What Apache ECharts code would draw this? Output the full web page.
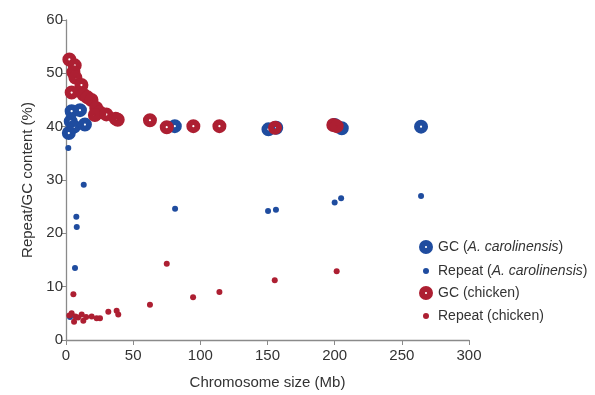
<!DOCTYPE html>
<html>
<head>
<meta charset="utf-8">
<script src="https://cdn.jsdelivr.net/npm/echarts@6/dist/echarts.min.js"></script>
<style>
  html, body { margin: 0; padding: 0; background: #fff; }
  #chart { width: 595px; height: 395px; }
</style>
</head>
<body>
<div id="chart"></div>
<script>
// [chromosome size (Mb), percent]
const gcAnole = [
  [2.1, 38.8], [3.5, 41.0], [4.2, 42.9], [10.4, 43.1], [6.0, 40.0], [14.1, 40.4],
  [81, 40.1], [150.7, 39.5], [156.5, 39.8], [200, 40.3], [205.3, 39.7], [264.3, 40.0]
];
const repeatAnole = [
  [1.7, 36.0], [13.2, 29.1], [7.7, 23.1], [8.0, 21.2], [6.7, 13.5], [3.0, 4.3],
  [81.2, 24.6], [150.4, 24.2], [156.3, 24.4], [200, 25.8], [204.8, 26.6], [264.3, 27.0]
];
const gcChicken = [
  [2.5, 52.6], [6.5, 51.5], [5.5, 50.2], [7.0, 49.2], [11.5, 47.8], [4.2, 46.4],
  [13.0, 46.0], [16.0, 45.5], [19.0, 45.0], [22.5, 43.5], [25.0, 42.7], [21.5, 42.2],
  [30.0, 42.3], [37.0, 41.5], [38.5, 41.3], [62.5, 41.2], [75.0, 39.9], [94.8, 40.1],
  [114.2, 40.1], [155.6, 39.8], [199.0, 40.3], [201.5, 40.1]
];
const repeatChicken = [
  [5.5, 8.6], [2.5, 4.6], [4.2, 5.0], [6.0, 3.4], [7.0, 4.4], [9.0, 4.2],
  [11.7, 4.8], [12.9, 3.6], [15.0, 4.3], [19.1, 4.4], [22.8, 4.1], [25.3, 4.1],
  [31.5, 5.3], [37.7, 5.5], [38.9, 4.8], [62.5, 6.6], [75.0, 14.3], [94.6, 8.0],
  [114.2, 9.0], [155.4, 11.2], [201.5, 12.9]
];
const xTicks = [0, 50, 100, 150, 200, 250, 300];
const yTicks = [0, 10, 20, 30, 40, 50, 60];

const BLUE = '#1f4c9f';
const RED = '#ad1f32';
const FONT = 'Liberation Sans, Arial, sans-serif';
// big dot with a small white hole in the middle
const RING = 'path://M0,-7A7,7 0 1,1 0,7A7,7 0 1,1 0,-7ZM0,-1.1A1.1,1.1 0 1,0 0,1.1A1.1,1.1 0 1,0 0,-1.1Z';

const names = ['GC (A. carolinensis)', 'Repeat (A. carolinensis)', 'GC (chicken)', 'Repeat (chicken)'];

const chart = echarts.init(document.getElementById('chart'));

const axisLine = { lineStyle: { color: '#8a8a8a', width: 1.3 } };
const legendText = {
  fontFamily: FONT, fontSize: 14, color: '#333',
  rich: { i: { fontFamily: FONT, fontSize: 14, color: '#333', fontStyle: 'italic' } }
};
const fmt = n => n.replace('A. carolinensis', '{i|A. carolinensis}');

function legendItem(name, left, top, big) {
  return {
    data: [name], left: left, top: top, orient: 'vertical',
    itemWidth: 14, itemHeight: big ? 14 : 6, padding: 0,
    icon: big ? RING : 'circle',
    formatter: fmt, textStyle: legendText, selectedMode: false
  };
}

chart.setOption({
  animation: false,
  grid: { left: 66, right: 126, top: 20, bottom: 54 },
  legend: [
    legendItem(names[0], 419, 240, true),
    legendItem(names[1], 423, 264, false),
    legendItem(names[2], 419, 286, true),
    legendItem(names[3], 423, 309, false)
  ],
  xAxis: {
    type: 'value', min: xTicks[0], max: xTicks[xTicks.length - 1], interval: 50,
    name: 'Chromosome size (Mb)', nameLocation: 'middle', nameGap: 35,
    nameTextStyle: { fontFamily: FONT, fontSize: 15, color: '#333' },
    axisLine: axisLine, axisTick: { length: 5, lineStyle: { color: '#8a8a8a' } },
    axisLabel: { fontFamily: FONT, fontSize: 15, color: '#333', margin: 8 },
    splitLine: { show: false }
  },
  yAxis: {
    type: 'value', min: yTicks[0], max: yTicks[yTicks.length - 1], interval: 10,
    name: 'Repeat/GC content (%)', nameLocation: 'middle', nameGap: 30,
    nameTextStyle: { fontFamily: FONT, fontSize: 15, color: '#333' },
    axisLine: Object.assign({ show: true }, axisLine),
    axisTick: { show: true, length: 5, lineStyle: { color: '#8a8a8a' } },
    axisLabel: { fontFamily: FONT, fontSize: 15, color: '#333', margin: 3 },
    splitLine: { show: false }
  },
  series: [
    { name: names[0], type: 'scatter', data: gcAnole, symbol: RING, symbolSize: 14, itemStyle: { color: BLUE, opacity: 1 } },
    { name: names[1], type: 'scatter', data: repeatAnole, symbol: 'circle', symbolSize: 6, itemStyle: { color: BLUE, opacity: 1 } },
    { name: names[2], type: 'scatter', data: gcChicken, symbol: RING, symbolSize: 14, itemStyle: { color: RED, opacity: 1 } },
    { name: names[3], type: 'scatter', data: repeatChicken, symbol: 'circle', symbolSize: 6, itemStyle: { color: RED, opacity: 1 } }
  ]
});
</script>
</body>
</html>
